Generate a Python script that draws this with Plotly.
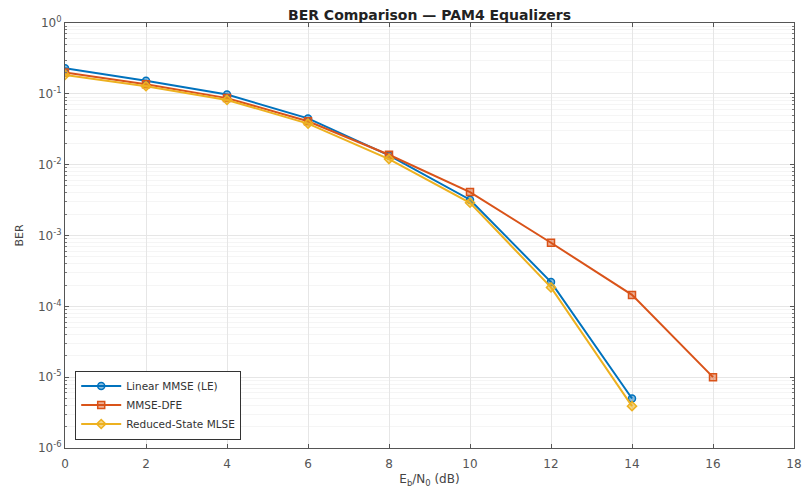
import plotly.graph_objects as go

ebn0_le = [0, 2, 4, 6, 8, 10, 12, 14]
ber_le = [0.23, 0.153, 0.098, 0.045, 0.0135, 3.2e-3, 2.2e-4, 5.0e-6]

ebn0_dfe = [0, 2, 4, 6, 8, 10, 12, 14, 16]
ber_dfe = [0.20, 0.137, 0.087, 0.041, 0.0138, 4.1e-3, 7.9e-4, 1.45e-4, 1.0e-5]

ebn0_mlse = [0, 2, 4, 6, 8, 10, 12, 14]
ber_mlse = [0.185, 0.128, 0.082, 0.038, 0.0120, 2.9e-3, 1.85e-4, 3.9e-6]

y_tickvals = [1e-6, 1e-5, 1e-4, 1e-3, 1e-2, 1e-1, 1e0]
y_ticktext = ["10<sup>-6</sup>", "10<sup>-5</sup>", "10<sup>-4</sup>", "10<sup>-3</sup>",
              "10<sup>-2</sup>", "10<sup>-1</sup>", "10<sup>0</sup>"]

names = ["Linear MMSE (LE)", "MMSE-DFE", "Reduced-State MLSE"]
colors = ["#0072BD", "#D95319", "#EDB120"]
fills = ["rgba(0,114,189,0.45)", "rgba(217,83,25,0.45)", "rgba(237,177,32,0.55)"]
symbols = ["circle", "square", "diamond"]

fig = go.Figure()
for x, y, n, c, f, s in zip([ebn0_le, ebn0_dfe, ebn0_mlse],
                            [ber_le, ber_dfe, ber_mlse], names, colors, fills, symbols):
    fig.add_trace(go.Scatter(
        x=x, y=y, name=n, mode="lines+markers",
        line=dict(color=c, width=2),
        marker=dict(symbol=s, size=7, color=f, line=dict(color=c, width=1.5)),
    ))

font = "DejaVu Sans, Verdana, sans-serif"
fig.update_layout(
    width=810, height=495,
    margin=dict(l=65, r=8, t=23, b=47),
    paper_bgcolor="white", plot_bgcolor="white",
    font=dict(family=font, size=12, color="#555"),
    title=dict(text="<b>BER Comparison — PAM4 Equalizers</b>", x=0.5, xref="paper",
               y=1, yref="paper", yanchor="bottom", pad=dict(b=3),
               font=dict(family=font, size=14, color="#222")),
    showlegend=True,
    legend=dict(x=0.014, y=0.02, xanchor="left", yanchor="bottom",
                bgcolor="white", bordercolor="#333", borderwidth=1,
                font=dict(size=10.5, color="#333"), tracegroupgap=0,
                itemwidth=40),
)
fig.update_xaxes(
    range=[0, 18], dtick=2, tick0=0,
    showgrid=True, gridcolor="#e6e6e6", gridwidth=1,
    showline=True, linecolor="#555", linewidth=1, mirror="ticks",
    ticks="inside", ticklen=4, tickcolor="#555", ticklabelstandoff=5,
    zeroline=False,
    title=dict(text="E<sub>b</sub>/N<sub>0</sub> (dB)", standoff=4,
               font=dict(size=12, color="#444")),
)
fig.update_yaxes(
    type="log", range=[-6, 0],
    tickmode="array", tickvals=y_tickvals, ticktext=y_ticktext,
    showgrid=True, gridcolor="#e6e6e6", gridwidth=1,
    showline=True, linecolor="#555", linewidth=1, mirror="ticks",
    ticks="inside", ticklen=4, tickcolor="#555",
    minor=dict(ticks="inside", ticklen=2, tickcolor="#777", showgrid=True,
               gridcolor="#f5f5f5", tickvals=[m * 10 ** e for e in range(-6, 0) for m in range(2, 10)]),
    zeroline=False,
    title=dict(text="BER", standoff=12, font=dict(size=11, color="#444")),
)

fig.write_html("out.html")
